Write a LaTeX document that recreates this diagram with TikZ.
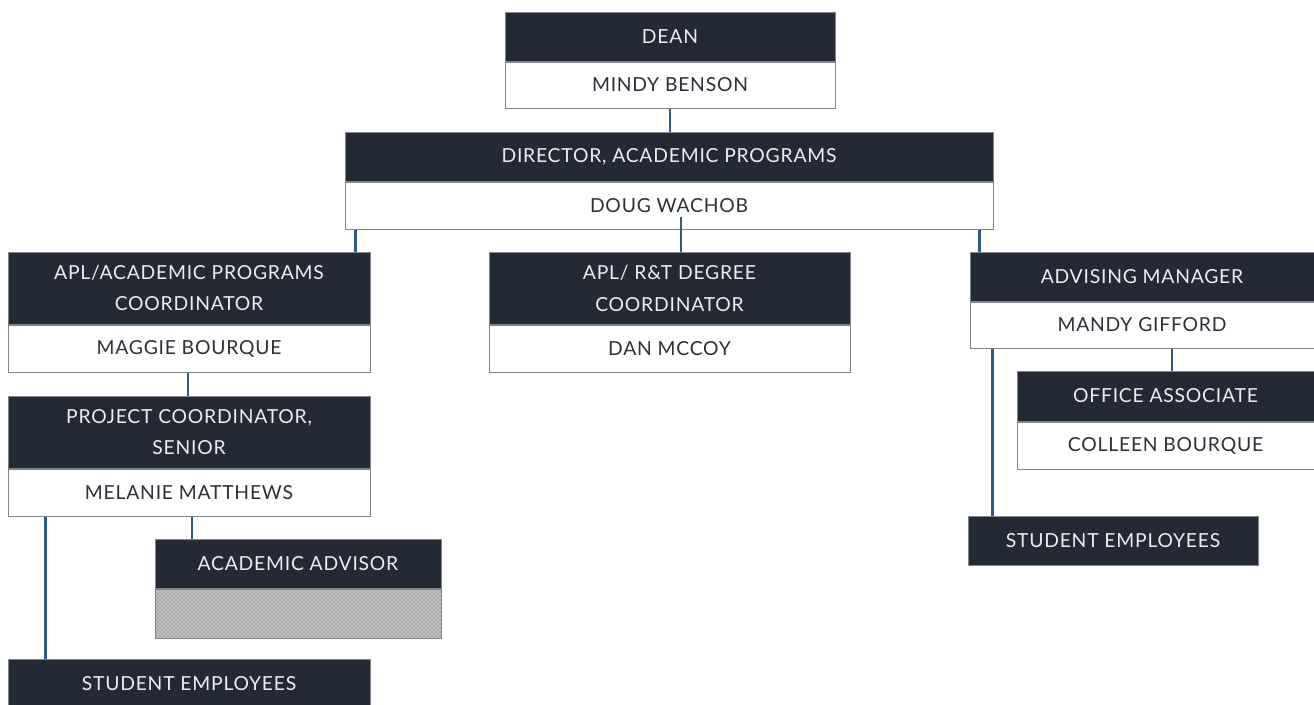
\documentclass[tikz,border=0pt]{standalone}
\usepackage{fontspec}
\setmainfont{Lato}[LetterSpace=4]
\usetikzlibrary{positioning,patterns}
\definecolor{navy}{HTML}{232A36}
\definecolor{wire}{HTML}{2E5A87}
\definecolor{edge}{HTML}{80858C}
\definecolor{ink}{HTML}{2B303A}
\tikzset{
	headbox/.style={draw=edge, line width=0.75pt, fill=navy, text=white!93!black, align=center, minimum height=#1*0.75pt, inner sep=0pt, font=\fontsize{14.5}{23.5}\selectfont},
	headbox/.default=49,
	namebox/.style={draw=edge, line width=0.75pt, fill=white, text=ink, align=center, minimum height=#1*0.75pt, inner sep=0pt, font=\fontsize{14.5}{23.5}\selectfont},
	namebox/.default=47,
	wd/.style={minimum width=#1*0.75pt},
	link/.style={draw=wire, line width=1.6pt}
}
\begin{document}
\begin{tikzpicture}[x=0.75pt, y=-0.75pt]
	\useasboundingbox (0,0) rectangle (1314,704);
	% Boxes:
	\node[headbox, wd=330] (deanTitle) at (670, 36.5){DEAN};
	\node[namebox=46, wd=330, below=0pt of deanTitle] (deanName){MINDY BENSON};
	\node[headbox, wd=648] (dirTitle) at (669, 156.5){DIRECTOR, ACADEMIC PROGRAMS};
	\node[namebox, wd=648, below=0pt of dirTitle] (dirName){DOUG WACHOB};
	\node[headbox=72, wd=362] (aplTitle) at (189, 288){APL/ACADEMIC PROGRAMS\\COORDINATOR};
	\node[namebox, wd=362, below=0pt of aplTitle] (aplName){MAGGIE BOURQUE};
	\node[headbox=72, wd=361] (rtTitle) at (669.5, 288.5){APL/ R\&T DEGREE\\COORDINATOR};
	\node[namebox, wd=361, below=0pt of rtTitle] (rtName){DAN MCCOY};
	\node[headbox, wd=344] (advTitle) at (1142, 276.5){ADVISING MANAGER};
	\node[namebox=46, wd=344, below=0pt of advTitle] (advName){MANDY GIFFORD};
	\node[headbox=50, wd=297] (offTitle) at (1165.5, 396){OFFICE ASSOCIATE};
	\node[namebox, wd=297, below=0pt of offTitle] (offName){COLLEEN BOURQUE};
	\node[headbox, wd=290] (stuRight) at (1113, 540.5){STUDENT EMPLOYEES};
	\node[headbox=72, wd=362] (projTitle) at (189, 432){PROJECT COORDINATOR,\\SENIOR};
	\node[namebox, wd=362, below=0pt of projTitle] (projName){MELANIE MATTHEWS};
	\node[headbox, wd=286] (advisorTitle) at (298, 563.5){ACADEMIC ADVISOR};
	\node[namebox=49, wd=286, below=0pt of advisorTitle, preaction={fill=gray!45}, pattern=crosshatch dots, pattern color=gray!50!black] (advisorName){};
	\node[headbox, wd=362] (stuLeft) at (189, 683.5){STUDENT EMPLOYEES};
	% Wires:
	\draw[link] (deanName.south) -- (deanName.south |- dirTitle.north);
	\draw[link] ([xshift=8.25pt]dirName.south west) coordinate (dirA) -- (dirA |- aplTitle.north);
	\draw[link] ([xshift=8.6pt]rtTitle.north) coordinate (rtTop) -- ([yshift=26pt]rtTop);
	\draw[link] ([xshift=7.5pt]advTitle.north west) coordinate (advTop) -- (advTop |- dirName.south);
	\draw[link] ([xshift=-0.75pt]aplName.south) coordinate (aplBot) -- (aplBot |- projTitle.north);
	\draw[link] ([xshift=28.5pt]projName.south west) coordinate (projA) -- (projA |- stuLeft.north);
	\draw[link] ([xshift=-79.5pt]advisorTitle.north) coordinate (advisorTop) -- (advisorTop |- projName.south);
	\draw[link] ([xshift=17.25pt]advName.south west) coordinate (advA) -- (advA |- stuRight.north);
	\draw[link] ([xshift=4.9pt]offTitle.north) coordinate (offTop) -- (offTop |- advName.south);
\end{tikzpicture}
\end{document}
